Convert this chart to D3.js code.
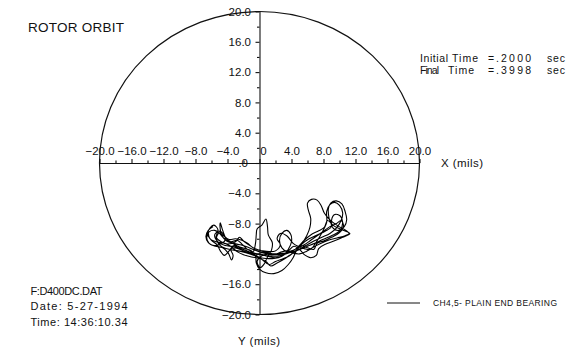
<!DOCTYPE html>
<html>
<head>
<meta charset="utf-8">
<script src="https://cdn.jsdelivr.net/npm/d3@7"></script>
<style>
  html, body { margin: 0; padding: 0; background: #fff; }
  svg { display: block; }
  text { font-family: "Liberation Sans", Arial, sans-serif; fill: #111; }
</style>
</head>
<body>
<svg id="chart" width="574" height="352"></svg>
<script>
// ---- data ----
const title = "ROTOR ORBIT";
const xMajorTicks = [-20, -16, -12, -8, -4, 0, 4, 8, 12, 16, 20];
const yMajorTicks = [-20, -16, -12, -8, -4, 0, 4, 8, 12, 16, 20];
const minorTicks = [-18, -14, -10, -6, -2, 2, 6, 10, 14, 18];
const hiddenYLabels = [-12];
const timeLabels = ["Initial", "Final"];
const timeValues = [".2000", ".3998"];
const fileInfo = ["F:D400DC.DAT", "Date: 5-27-1994", "Time: 14:36:10.34"];
const seriesName = "CH4,5- PLAIN END BEARING";
// orbit samples [x mils, y mils]
const orbit = [
  [-5.8,-8.4],[-6.4,-8.9],[-6.7,-9.7],[-6.4,-10.5],[-5.7,-10.9],[-4.9,-10.7],[-4.3,-10.2],[-4.5,-9.4],
  [-5.1,-9.0],[-5.6,-9.5],[-5.2,-10.4],[-4.3,-10.9],[-3.4,-11.0],[-2.6,-11.2],[-1.8,-11.5],[-1.0,-11.8],
  [-0.2,-12.0],[0.6,-12.2],[1.4,-12.3],[2.2,-12.3],[3.0,-12.1],[3.8,-11.8],[4.6,-11.3],[5.3,-10.6],
  [5.9,-9.6],[6.3,-8.5],[6.4,-7.3],[6.1,-6.2],[6.0,-5.3],[6.5,-4.8],[7.2,-4.9],[7.7,-5.6],
  [8.1,-6.6],[8.8,-7.5],[9.8,-8.3],[10.8,-8.9],[11.2,-9.3],[10.7,-9.6],[9.7,-9.9],[8.6,-10.2],
  [7.5,-10.7],[6.6,-11.2],[5.8,-11.7],[5.0,-12.0],[4.2,-11.9],[3.4,-11.6],[2.6,-11.8],[1.8,-12.1],
  [1.0,-12.0],[0.2,-11.8],[-0.6,-11.5],[-1.5,-11.1],[-2.4,-10.8],[-3.3,-10.6],[-4.1,-10.3],[-4.7,-9.6],
  [-4.9,-8.8],[-4.9,-7.9],[-4.6,-8.9],[-4.2,-9.9],[-3.5,-10.5],
  [-2.7,-11.0],[-1.8,-11.3],[-1.0,-11.6],[-0.5,-12.3],[-0.4,-13.2],[0.0,-14.0],[0.8,-14.5],[1.8,-14.6],
  [2.8,-14.2],[3.6,-13.4],[4.2,-12.5],[4.6,-11.6],[5.3,-10.7],[6.2,-10.0],[7.2,-9.5],[8.2,-9.0],
  [9.0,-8.4],[8.7,-7.3],[8.6,-6.1],[8.9,-5.3],[9.6,-5.0],[10.3,-5.4],[10.7,-6.4],[10.9,-7.5],
  [10.6,-8.4],[9.9,-8.9],[9.2,-8.6],[9.0,-7.6],[9.4,-6.8],[10.1,-7.0],[10.4,-7.9],[10.0,-9.0],
  [9.0,-9.6],[7.9,-10.1],[6.9,-10.6],[6.0,-11.0],[5.1,-11.4],[4.3,-11.7],[3.6,-11.8],[2.8,-11.2],
  [2.5,-10.2],[2.8,-9.3],[3.4,-8.9],[3.9,-9.4],[4.0,-10.4],[3.6,-11.4],[3.0,-12.2],[2.0,-12.5],
  [1.0,-12.3],[0.0,-12.0],[-1.0,-11.9],[-2.0,-11.6],[-3.0,-11.2],[-3.6,-11.4],[-3.3,-12.2],[-3.5,-12.8],
  [-3.9,-11.9],
  [-4.6,-11.2],[-5.5,-11.0],[-6.3,-10.6],[-6.6,-9.8],[-6.3,-9.1],[-5.6,-8.9],[-5.0,-9.3],[-4.4,-10.0],
  [-3.6,-10.4],[-2.8,-10.2],[-2.2,-10.7],[-1.5,-11.4],[-0.8,-11.7],
  [-0.5,-10.6],[-0.4,-9.4],[-0.3,-8.7],[0.3,-8.2],[0.8,-7.4],[1.0,-8.4],[1.1,-9.5],[1.6,-10.5],
  [1.5,-11.5],[1.0,-12.4],[0.6,-13.3],[0.1,-13.8],[-0.3,-13.0],[0.2,-12.3],[1.2,-12.0],[2.2,-12.0],
  [3.2,-11.9],[4.0,-11.7],[4.8,-11.1],[5.6,-10.2],[6.4,-9.5],[7.3,-9.0],[8.1,-8.5],[8.5,-7.6],
  [9.3,-8.3],[10.3,-8.8],[11.3,-9.3],[10.4,-9.8],[9.3,-10.3],[8.3,-10.7],[7.4,-11.3],[7.1,-12.2],
  [6.4,-12.5],[5.6,-12.1],[5.0,-11.4],[4.3,-11.0],[3.6,-11.6],[2.8,-12.3],[1.8,-12.6],[0.8,-12.6],
  [-0.2,-12.4],[-1.2,-12.0],[-2.2,-11.7],[-3.2,-11.5],[-4.2,-11.3],[-5.0,-10.8],[-5.4,-10.0],[-5.0,-9.2],
  [-4.5,-9.6],[-3.8,-10.1],[-3.0,-10.0],[-2.2,-10.2],[-1.5,-10.6],[-0.8,-11.2],[0.0,-11.5],[0.8,-11.8],
  [1.6,-12.0],[2.4,-12.1],[3.2,-11.9],[4.0,-11.6],[4.8,-11.2],[5.6,-10.8],[6.4,-10.2],[7.2,-9.6],
  [8.0,-9.0],[8.8,-8.4],[9.6,-8.0],[10.2,-7.6],[10.5,-8.3],[10.0,-9.2],
  [9.0,-9.8],[8.0,-10.3],[7.2,-10.6],[6.8,-11.4],[6.0,-11.2],[5.2,-10.9],[4.6,-11.5],[3.8,-12.2],
  [3.0,-12.6],[2.0,-13.0],[1.2,-13.4],[0.4,-12.8],[-0.4,-12.2],[-1.4,-11.9],[-2.4,-11.4],[-3.2,-10.9],
  [-3.8,-11.6],[-4.4,-12.2],[-4.9,-11.6],[-5.3,-10.8],[-6.0,-10.2],[-6.5,-9.4],[-6.2,-8.6],[-5.7,-8.2],
  [-5.2,-8.8],[-5.4,-9.8],[-4.8,-10.4],[-4.0,-10.7],[-3.0,-10.4],[-2.5,-9.8],[-2.0,-10.3],[-1.2,-10.9],
  [-0.4,-11.4],[0.4,-11.6],[1.2,-11.7],[2.0,-11.6],[2.6,-10.8],[2.2,-10.0],[2.6,-9.3],[3.4,-9.6],
  [4.2,-10.6],[4.8,-11.0],[5.6,-11.3],[6.4,-11.4],[7.0,-10.6],[7.8,-9.2],[8.4,-7.8],[8.4,-6.4],
  [8.8,-5.5],[9.4,-5.2],[10.0,-5.6],[10.4,-6.6],[10.2,-7.6],[9.6,-8.6],[8.8,-9.3],[7.8,-9.8],
  [6.8,-10.3],[5.8,-10.9],[4.8,-11.5],[4.0,-12.0],[3.2,-12.6],[2.2,-13.2],[1.4,-13.6],[0.8,-13.0],
  [0.0,-12.6],[-1.0,-12.4],[-2.0,-12.1],[-2.8,-11.7],[-3.6,-11.0],[-4.4,-10.6],[-5.4,-10.4],[-6.2,-10.0],
  [-6.4,-9.2]
];

// ---- drawing ----
const svg = d3.select("#chart");
const x = d3.scaleLinear().domain([-20, 20]).range([99.5, 419.5]);
const y = d3.scaleLinear().domain([-20, 20]).range([314.5, 11.5]);
const ink = "#111";
const fmt = d3.format(".1f");

// boundary circle (ellipse in screen space)
svg.append("ellipse")
  .attr("cx", x(0)).attr("cy", y(0))
  .attr("rx", x(20) - x(0)).attr("ry", y(-20) - y(0))
  .attr("fill", "none").attr("stroke", ink).attr("stroke-width", 1.2);

// minor ticks
svg.append("g").attr("transform", `translate(0,${y(0)})`)
  .call(d3.axisTop(x).tickValues(minorTicks).tickSize(2.5).tickFormat(""))
  .call(g => g.select(".domain").remove());
svg.append("g").attr("transform", `translate(${x(0)},0)`)
  .call(d3.axisLeft(y).tickValues(minorTicks).tickSize(2.5).tickFormat(""))
  .call(g => g.select(".domain").remove());

// x axis (labels above the line)
const gx = svg.append("g").attr("transform", `translate(0,${y(0)})`)
  .call(d3.axisTop(x).tickValues(xMajorTicks).tickSize(4).tickPadding(4.5).tickSizeOuter(0)
    .tickFormat(d => d === 0 ? "0" : fmt(d)));
gx.selectAll("text").attr("font-size", 11.5).attr("font-family", "Liberation Sans, Arial, sans-serif")
  .attr("fill", ink).filter(d => d === 0).attr("dx", 3.5);

// y axis (labels left of the line)
const gy = svg.append("g").attr("transform", `translate(${x(0)},0)`)
  .call(d3.axisLeft(y).tickValues(yMajorTicks).tickSize(4).tickPadding(4.5).tickSizeOuter(0)
    .tickFormat(d => hiddenYLabels.includes(d) ? "" : (d === 0 ? ".0" : fmt(d))));
gy.selectAll("text").attr("font-size", 11.5).attr("font-family", "Liberation Sans, Arial, sans-serif")
  .attr("fill", ink).filter(d => d === 0).attr("dx", -3);

svg.selectAll(".domain, .tick line").attr("stroke", ink).attr("stroke-width", 1.1);

// orbit trace
const line = d3.line().x(d => x(d[0])).y(d => y(d[1])).curve(d3.curveCatmullRom.alpha(0.5));
svg.append("path").datum(orbit)
  .attr("d", line).attr("fill", "none").attr("stroke", "#000")
  .attr("stroke-width", 1.1).attr("stroke-linejoin", "round");

// title
svg.append("text").attr("x", 28).attr("y", 32).attr("font-size", 13.5)
  .attr("textLength", 96).text(title);

// axis titles
svg.append("text").attr("x", 441).attr("y", 166.5).attr("font-size", 11.5)
  .attr("textLength", 42).text("X (mils)");
svg.append("text").attr("x", 238).attr("y", 344.5).attr("font-size", 11.5)
  .attr("textLength", 42).text("Y (mils)");

// time info
const tg = svg.append("g").attr("font-size", 10.5);
timeLabels.forEach((lab, i) => {
  const yy = 61.5 + i * 12.5;
  tg.append("text").attr("x", 420).attr("y", yy).attr("textLength", i === 0 ? 28 : 19).text(lab);
  tg.append("text").attr("x", i === 0 ? 452 : 448).attr("y", yy).attr("textLength", 26).text("Time");
  tg.append("text").attr("x", 488).attr("y", yy).text("=");
  tg.append("text").attr("x", 496).attr("y", yy).attr("textLength", 35).text(timeValues[i]);
  tg.append("text").attr("x", 547).attr("y", yy).attr("textLength", 18).text("sec");
});

// file info
const widths = [72, 97, 97];
fileInfo.forEach((s, i) => {
  svg.append("text").attr("x", 30.5).attr("y", 294.5 + i * 15.5).attr("font-size", 11)
    .attr("textLength", widths[i]).text(s);
});

// legend
svg.append("line").attr("x1", 387).attr("x2", 420).attr("y1", 303).attr("y2", 303)
  .attr("stroke", ink).attr("stroke-width", 1);
svg.append("text").attr("x", 433).attr("y", 306).attr("font-size", 8.5)
  .attr("textLength", 124).text(seriesName);
</script>
</body>
</html>
